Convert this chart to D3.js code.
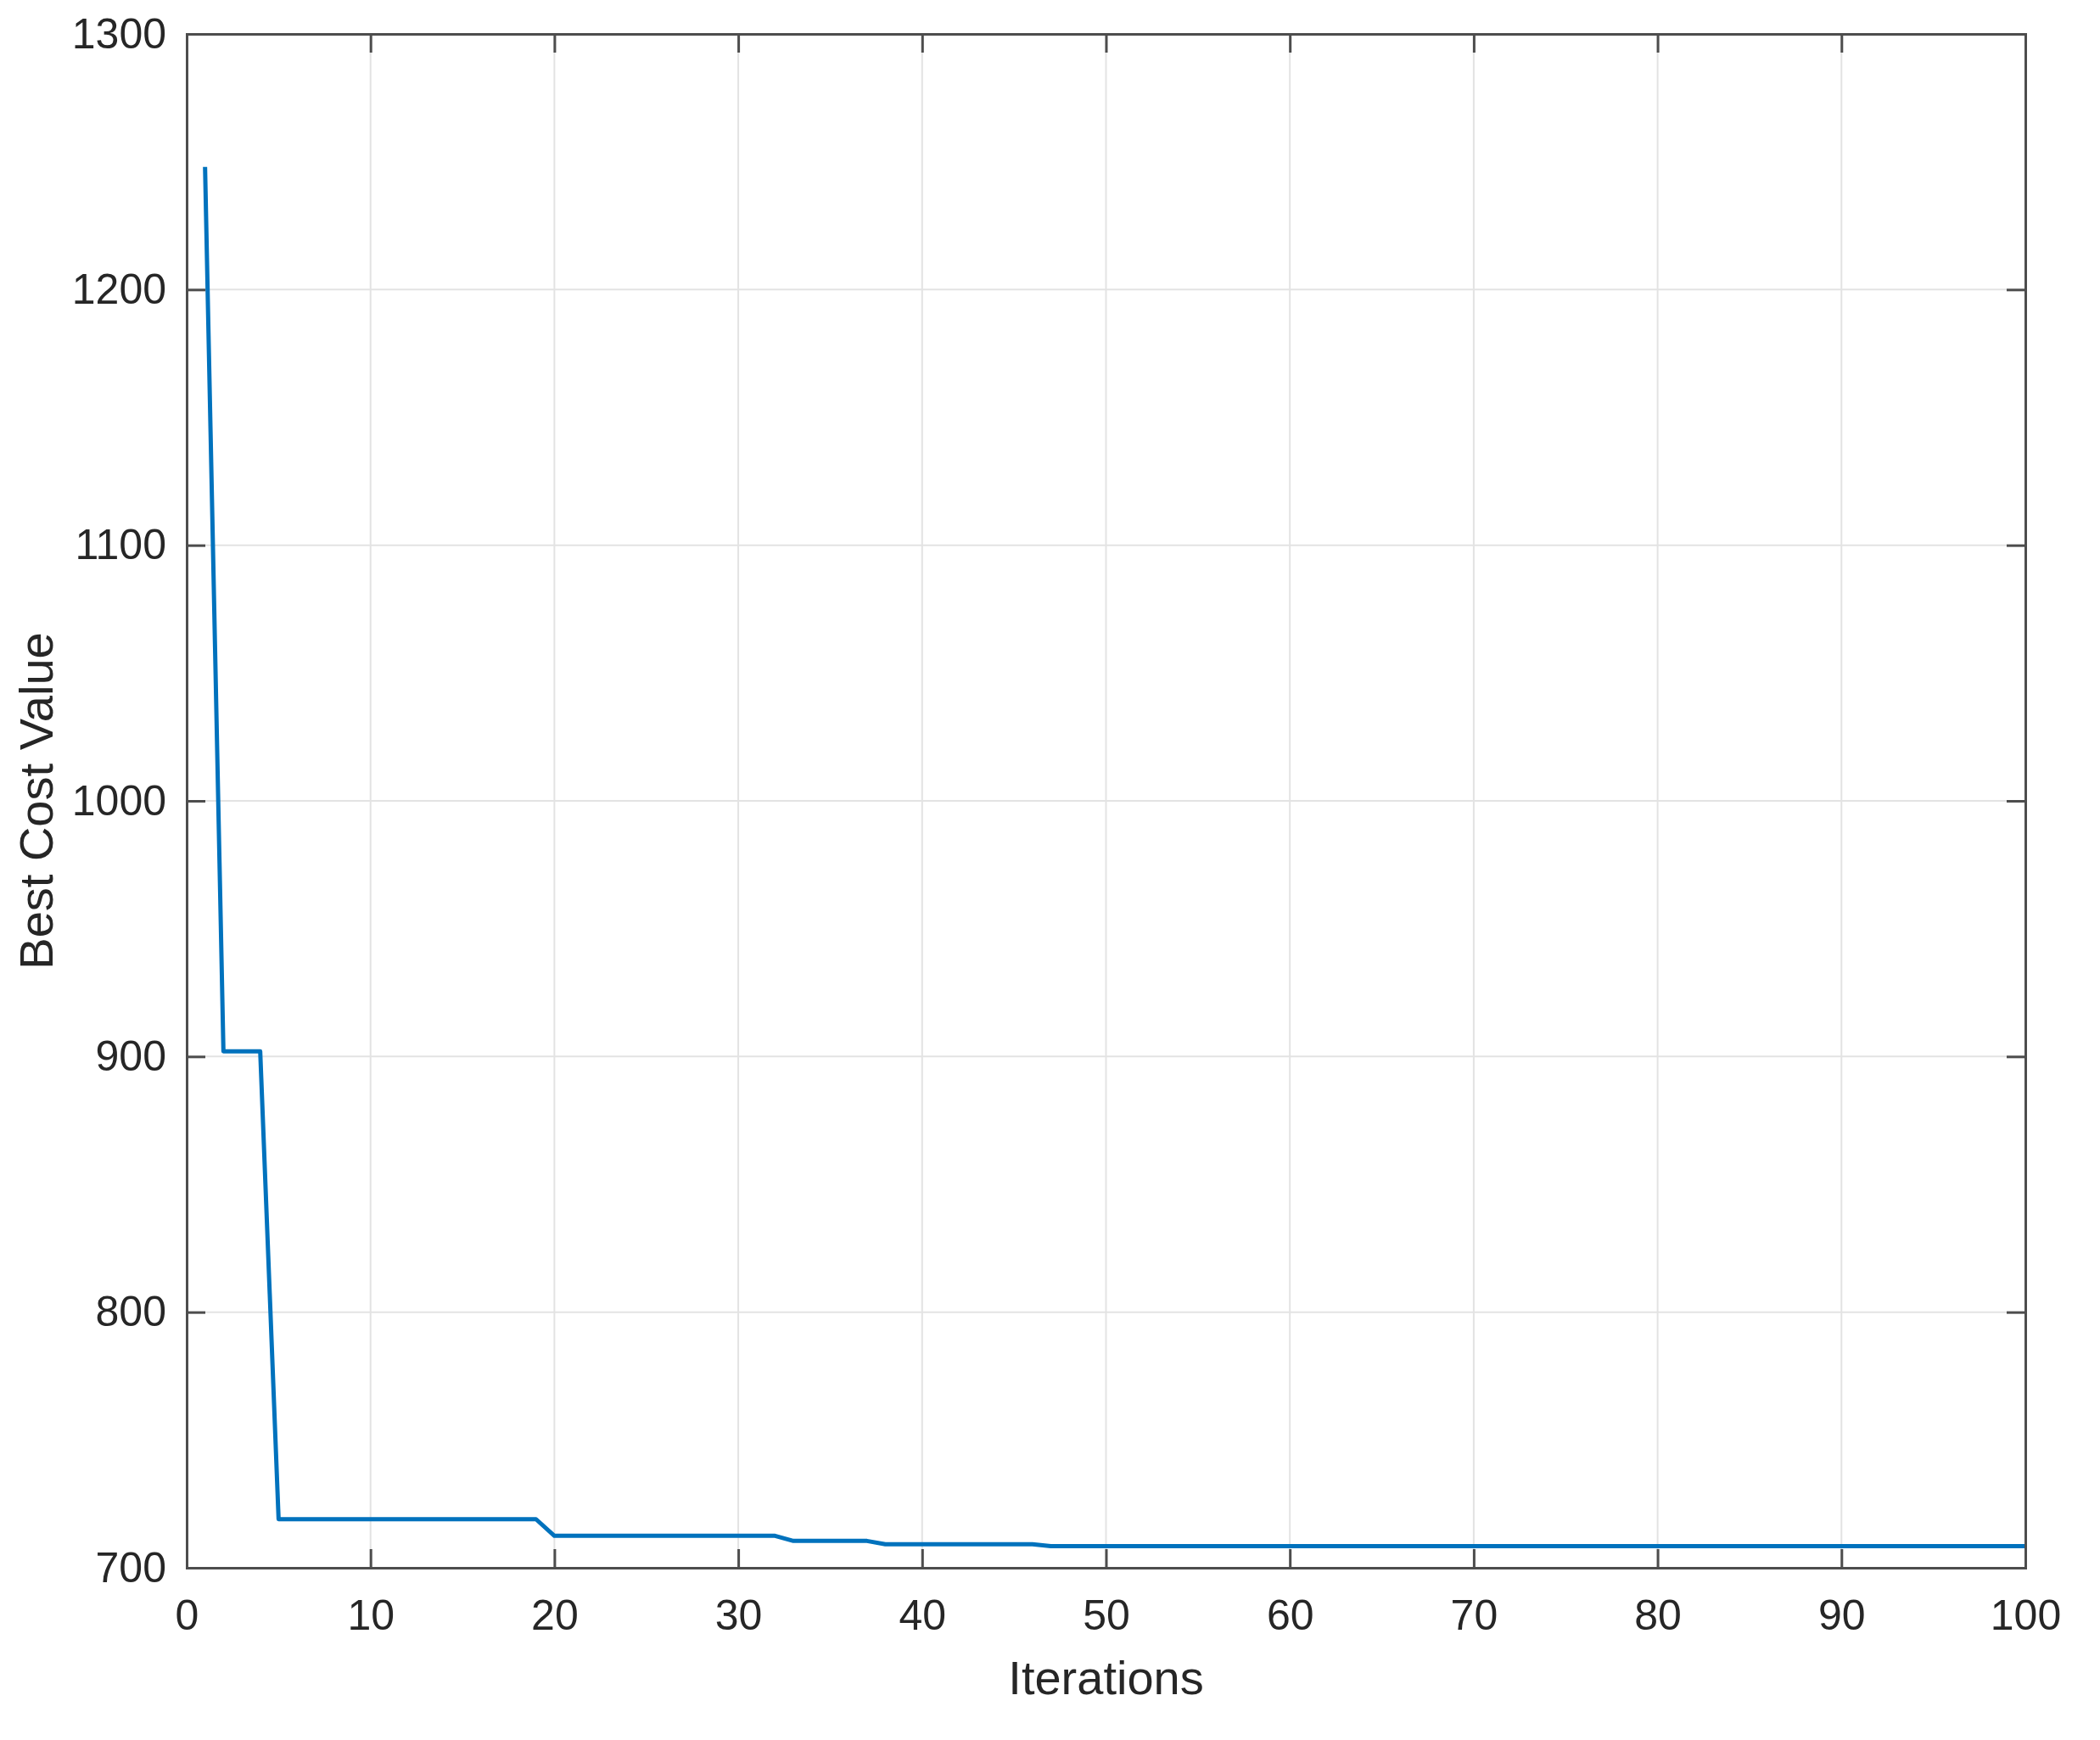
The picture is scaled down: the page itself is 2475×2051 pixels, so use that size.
<!DOCTYPE html>
<html>
<head>
<meta charset="utf-8">
<script src="https://cdn.jsdelivr.net/npm/d3@7"></script>
<style>
  body { margin: 0; background: #fff; }
  text { font-family: "Liberation Sans", Arial, sans-serif; fill: #262626; }
</style>
</head>
<body>
<svg width="2475" height="2051"></svg>
<script>
// best cost per iteration
const iterations = d3.range(1, 101)
const stepStarts = [1, 2, 5, 20, 33, 38, 47]
const stepValues = [1248, 902, 719, 712.5, 710.5, 709.2, 708.5]
const bestCost = iterations.map(i => stepValues[d3.bisectRight(stepStarts, i) - 1])

const xTicks = [0, 10, 20, 30, 40, 50, 60, 70, 80, 90, 100]
const yTicks = [700, 800, 900, 1000, 1100, 1200, 1300]

const svg = d3.select("svg")
const margin = {top: 40, right: 88, bottom: 203, left: 220}
const width = +svg.attr("width")
const height = +svg.attr("height")

const x = d3.scaleLinear().domain([0, 100]).range([margin.left, width - margin.right])
const y = d3.scaleLinear().domain([700, 1300]).range([height - margin.bottom, margin.top])

const axisColor = "#4d4d4d"
const tickLen = 22

// grid
const grid = svg.append("g")
grid.selectAll(".gx").data(xTicks.slice(1, -1)).enter().append("line")
  .attr("x1", d => x(d)).attr("x2", d => x(d))
  .attr("y1", y(1300)).attr("y2", y(700))
  .attr("stroke", "#e3e3e3").attr("stroke-width", 2)
grid.selectAll(".gy").data(yTicks.slice(1, -1)).enter().append("line")
  .attr("x1", x(0)).attr("x2", x(100))
  .attr("y1", d => y(d)).attr("y2", d => y(d))
  .attr("stroke", "#e3e3e3").attr("stroke-width", 2)

// data line
const line = d3.line().x((d, i) => x(iterations[i])).y(d => y(d))
svg.append("path")
  .datum(bestCost)
  .attr("d", line)
  .attr("fill", "none")
  .attr("stroke", "#0072BD")
  .attr("stroke-width", 5)
  .attr("stroke-linejoin", "round")

// axes (ticks pointing inward, mirrored on top/right)
const fontSize = 50
const xAxis = d3.axisBottom(x).tickValues(xTicks).tickSize(-tickLen).tickPadding(37)
const gx = svg.append("g").attr("transform", `translate(0,${y(700)})`).call(xAxis)
const xTop = svg.append("g").attr("transform", `translate(0,${y(1300)})`)
  .call(d3.axisTop(x).tickValues(xTicks).tickSize(-tickLen).tickFormat(""))

const yAxis = d3.axisLeft(y).tickValues(yTicks).tickSize(-tickLen).tickPadding(24).tickFormat(d3.format("d"))
const gy = svg.append("g").attr("transform", `translate(${x(0)},0)`).call(yAxis)
const yRight = svg.append("g").attr("transform", `translate(${x(100)},0)`)
  .call(d3.axisRight(y).tickValues(yTicks).tickSize(-tickLen).tickFormat(""))

for (const g of [gx, xTop, gy, yRight]) {
  g.select(".domain").attr("stroke", axisColor).attr("stroke-width", 3)
  g.selectAll(".tick line").attr("stroke", axisColor).attr("stroke-width", 3)
  g.selectAll(".tick text").style("font-size", fontSize + "px").attr("fill", "#262626")
    .style("font-family", "'Liberation Sans', Arial, sans-serif")
}

// axis labels
svg.append("text")
  .attr("x", (x(0) + x(100)) / 2)
  .attr("y", 1997)
  .attr("text-anchor", "middle")
  .style("font-size", "56px")
  .text("Iterations")

svg.append("text")
  .attr("transform", `translate(62,${(y(700) + y(1300)) / 2}) rotate(-90)`)
  .attr("text-anchor", "middle")
  .style("font-size", "56px")
  .text("Best Cost Value")
</script>
</body>
</html>
